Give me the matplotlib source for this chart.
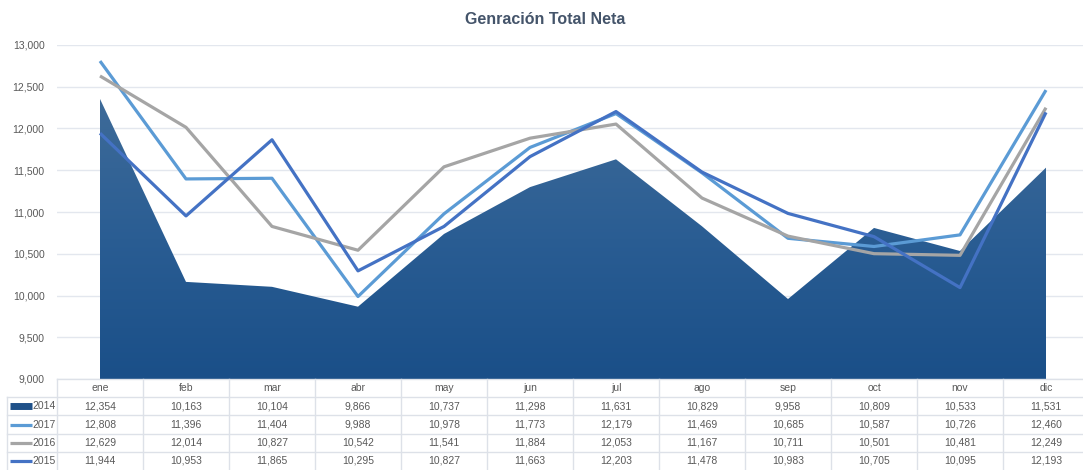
import numpy as np
import matplotlib.pyplot as plt
from matplotlib.colors import LinearSegmentedColormap

plt.rcParams['font.family'] = ['Liberation Sans Narrow', 'Liberation Sans', 'DejaVu Sans']

meses = ['ene', 'feb', 'mar', 'abr', 'may', 'jun', 'jul', 'ago', 'sep', 'oct', 'nov', 'dic']
v2014 = [12354, 10163, 10104, 9866, 10737, 11298, 11631, 10829, 9958, 10809, 10533, 11531]
v2017 = [12808, 11396, 11404, 9988, 10978, 11773, 12179, 11469, 10685, 10587, 10726, 12460]
v2016 = [12629, 12014, 10827, 10542, 11541, 11884, 12053, 11167, 10711, 10501, 10481, 12249]
v2015 = [11944, 10953, 11865, 10295, 10827, 11663, 12203, 11478, 10983, 10705, 10095, 12193]
series = [('2014', v2014), ('2017', v2017), ('2016', v2016), ('2015', v2015)]
colores = {'2014': '#1f5189', '2017': '#5b9bd5', '2016': '#a5a5a5', '2015': '#4472c4'}

W, H = 1083, 470
fig = plt.figure(figsize=(W / 100, H / 100), dpi=100)
L = 57 / W
AW = 1032 / W
ax = fig.add_axes([L, 1 - 379 / H, AW, (379 - 45) / H])
x = np.arange(len(meses))

# area 2014 with vertical gradient
poly = ax.fill_between(x, 9000, v2014, color='none', lw=0, zorder=1)
cmap = LinearSegmentedColormap.from_list('g', ['#1a4f88', '#2a5d93', '#3e6b99'])
grad = np.linspace(0, 1, 256).reshape(-1, 1)
im = ax.imshow(grad, cmap=cmap, aspect='auto', origin='lower',
               extent=[x[0], x[-1], 9000, max(v2014)], zorder=1)
im.set_clip_path(poly.get_paths()[0], transform=ax.transData)

for nombre, vals in series[1:]:
    ax.plot(x, vals, color=colores[nombre], lw=2.3, zorder=3, solid_capstyle='butt')

ax.set_xlim(-0.5, 11.5)
ax.set_ylim(9000, 13000)
ax.set_yticks(np.arange(9000, 13001, 500))
ax.set_yticklabels([f'{v:,}' for v in range(9000, 13001, 500)])
ax.tick_params(axis='y', length=0, pad=9, labelsize=7.5, labelcolor='#595959')
ax.set_xticks([])
ax.grid(axis='y', color='#e3e7ee', lw=1)
ax.set_axisbelow(True)
for s in ax.spines.values():
    s.set_visible(False)

fig.text(545 / W, 1 - 19 / H, 'Genración Total Neta', ha='center', va='center',
         fontsize=11.5, fontweight='bold', color='#44546a')

# data table
tab = fig.add_axes([L, 0, AW, 91 / H])
tab.set_xlim(-0.5, 11.5)
tab.set_ylim(0, 5)
tab.axis('off')
lc = '#dde1e8'
xl = -0.5 - 50 / 86
tab.plot([-0.5, 11.5], [5, 5], color=lc, lw=1, clip_on=False)
for yy in [4, 3, 2, 1]:
    tab.plot([xl, 11.5], [yy, yy], color=lc, lw=1, clip_on=False)
tab.plot([xl, xl], [0, 4], color=lc, lw=1, clip_on=False)
for k in range(-1, 12):
    tab.plot([k + 0.5, k + 0.5], [0, 5], color=lc, lw=1, clip_on=False)
for i, m in enumerate(meses):
    tab.text(i, 4.5, m, ha='center', va='center', fontsize=7.5, color='#595959')
for r, (nombre, vals) in enumerate(series):
    yc = 3.5 - r
    for i, v in enumerate(vals):
        tab.text(i, yc, f'{v:,}', ha='center', va='center', fontsize=7.5, color='#595959')
    lw = 5 if nombre == '2014' else 2.3
    tab.plot([xl + 0.04, xl + 0.29], [yc, yc], color=colores[nombre], lw=lw,
             clip_on=False, solid_capstyle='butt')
    tab.text(-0.52, yc, nombre, ha='right', va='center', fontsize=7.5, color='#595959')

fig.savefig('out.png', dpi=100)
